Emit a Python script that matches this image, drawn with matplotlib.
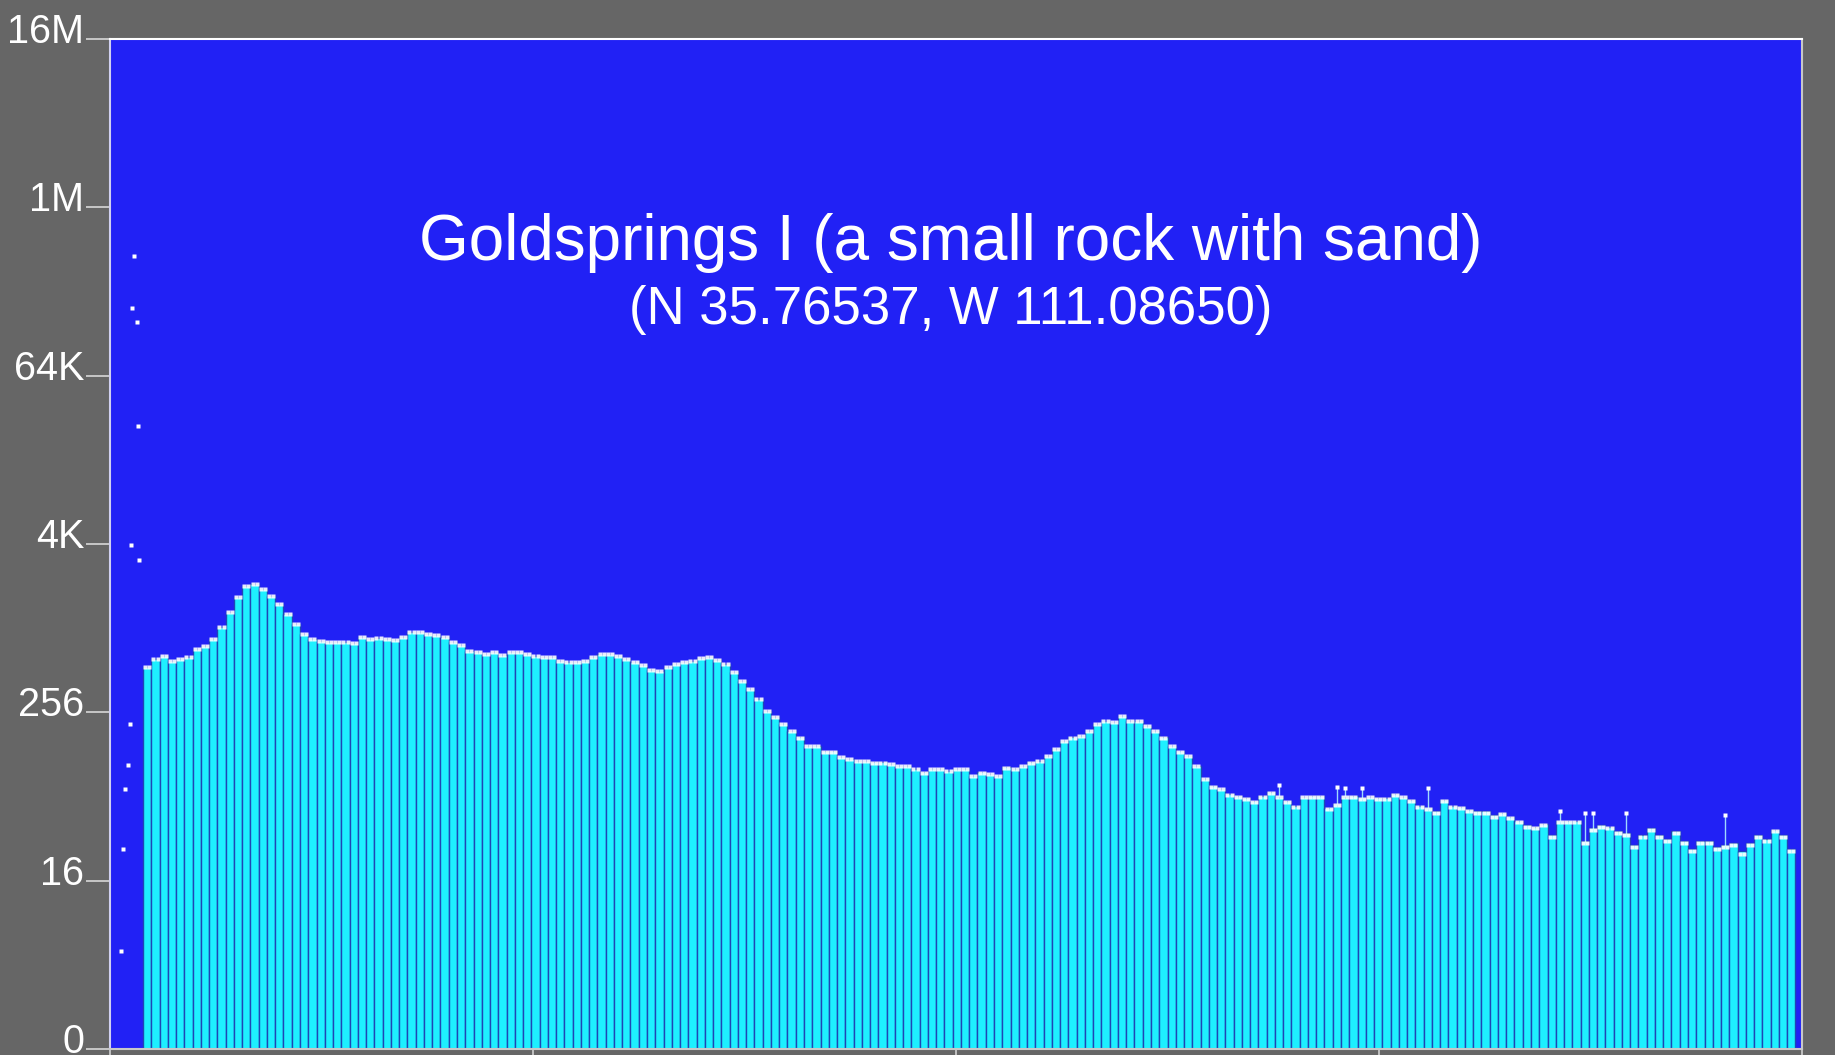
import matplotlib
matplotlib.use("Agg")
import matplotlib.pyplot as plt
from matplotlib.transforms import ScaledTranslation

# ---------------------------------------------------------------------------
# Data (counts per 5-channel bin)
# ---------------------------------------------------------------------------

bin_start = 20
bin_width = 5
counts = [
    538, 614, 645, 594, 614, 634, 724, 761, 854, 1041,
    1333, 1708, 2048, 2117, 1949, 1736, 1522, 1290, 1094, 927,
    854, 826, 813, 813, 813, 799, 883, 854, 868, 854,
    840, 883, 959, 959, 927, 912, 883, 813, 773, 701,
    689, 667, 689, 656, 689, 689, 667, 645, 634, 634,
    594, 584, 584, 594, 634, 667, 667, 645, 614, 584,
    556, 512, 504, 538, 565, 584, 594, 624, 634, 604,
    565, 495, 427, 374, 317, 260, 236, 210, 187, 169,
    146, 146, 134, 134, 122, 118, 114, 114, 112, 112,
    109, 105, 105, 100, 95, 100, 100, 97, 100, 100,
    89, 95, 92, 89, 103, 100, 105, 112, 114, 124,
    139, 159, 169, 172, 187, 210, 221, 217, 240, 221,
    221, 203, 187, 169, 146, 134, 124, 105, 85, 75,
    72, 66, 64, 61, 58, 64, 68, 63, 58, 54,
    63, 64, 64, 52, 56, 63, 64, 61, 63, 61,
    61, 66, 63, 59, 54, 52, 49, 59, 54, 53,
    50, 49, 49, 46, 48, 45, 42, 39, 38, 40,
    33, 42, 42, 42, 30, 37, 39, 38, 35, 34,
    28, 33, 37, 33, 31, 35, 30, 26, 30, 30,
    27, 28, 29, 25, 29, 33, 31, 36, 33, 26,
]

# isolated high points above single bins
spike_bins = [137, 144, 145, 147, 155, 171, 174, 175, 179, 191]
spike_counts = [77, 75, 74, 74, 74, 50, 49, 49, 49, 47]

# low channels below the first bin
low_channels = [6.7, 7.9, 9.1, 10.9, 12.1, 12.7, 13.3, 14.5, 16.3, 16.9, 17.6]
low_counts = [5, 27, 72, 107, 210, 4029, 201300, 467100, 159800, 28715, 3146]

ytick_vals = [16 ** k for k in range(7)]
ytick_labels = ["0", "16", "256", "4K", "64K", "1M", "16M"]
xtick_vals = [0, 256, 512, 768, 1024]

title = "Goldsprings I (a small rock with sand)"
subtitle = "(N 35.76537, W 111.08650)"

# ---------------------------------------------------------------------------
# Figure
# ---------------------------------------------------------------------------

plt.rcParams["font.family"] = ["Liberation Sans", "DejaVu Sans"]

fig = plt.figure(figsize=(18.35, 10.55), dpi=100, facecolor="#666666")
ax = fig.add_axes([110 / 1835, 1 - 1049 / 1055, 1692 / 1835, 1010 / 1055])
ax.set_facecolor("#2121f5")

x_left = [bin_start + bin_width * i for i in range(len(counts))]
ax.bar(x_left, counts, width=bin_width, align="edge", bottom=1,
       color="#1ef0ff", edgecolor="#1f47b5", linewidth=1.0, zorder=2)

# thin stems + dots for the spikes
spike_x = [bin_start + bin_width * b + bin_width / 2 for b in spike_bins]
spike_base = [counts[b] for b in spike_bins]
ax.vlines(spike_x, spike_base, spike_counts, color="#9fd8ff", linewidth=1.0, zorder=3)
ax.plot(spike_x, spike_counts, "s", color="white", ms=3.0, mec="none", zorder=4)

# two dots per bin trace the top of the spectrum
for off in (1.25, 3.75):
    ax.plot([x + off for x in x_left], counts, "s", color="white", ms=2.8,
            mec="none", zorder=4, alpha=0.9)

ax.plot(low_channels, low_counts, "s", color="white", ms=3.0, mec="none", zorder=4)

ax.set_yscale("log", base=16)
ax.set_ylim(1, 16 ** 6)
ax.set_xlim(0, 1024)
ax.set_yticks(ytick_vals)
ax.set_yticklabels(ytick_labels)
ax.minorticks_off()
ax.set_xticks(xtick_vals)
ax.set_xticklabels([])

ax.tick_params(axis="y", colors="#d8d8d8", length=17, width=1.2, pad=1.5,
               labelsize=28.5, labelcolor="white")
ax.tick_params(axis="x", colors="#d0d0d0", length=6, width=1.2, direction="out")
for lab in ax.get_yticklabels():
    lab.set_verticalalignment("baseline")
    lab.set_transform(lab.get_transform() + ScaledTranslation(0, -0.04, fig.dpi_scale_trans))

ax.spines["top"].set_color("white")
ax.spines["left"].set_color("#d0d0f0")
ax.spines["right"].set_color("#c8c8c8")
ax.spines["bottom"].set_color("#c8c8c8")
for s in ax.spines.values():
    s.set_linewidth(1.5)

fig.text(951 / 1835, 1 - 243 / 1055, title, color="white", fontsize=46,
         ha="center", va="center")
fig.text(951 / 1835, 1 - 310 / 1055, subtitle, color="white", fontsize=38,
         ha="center", va="center")

fig.savefig("out.png", dpi=100, facecolor=fig.get_facecolor())
plt.close(fig)
